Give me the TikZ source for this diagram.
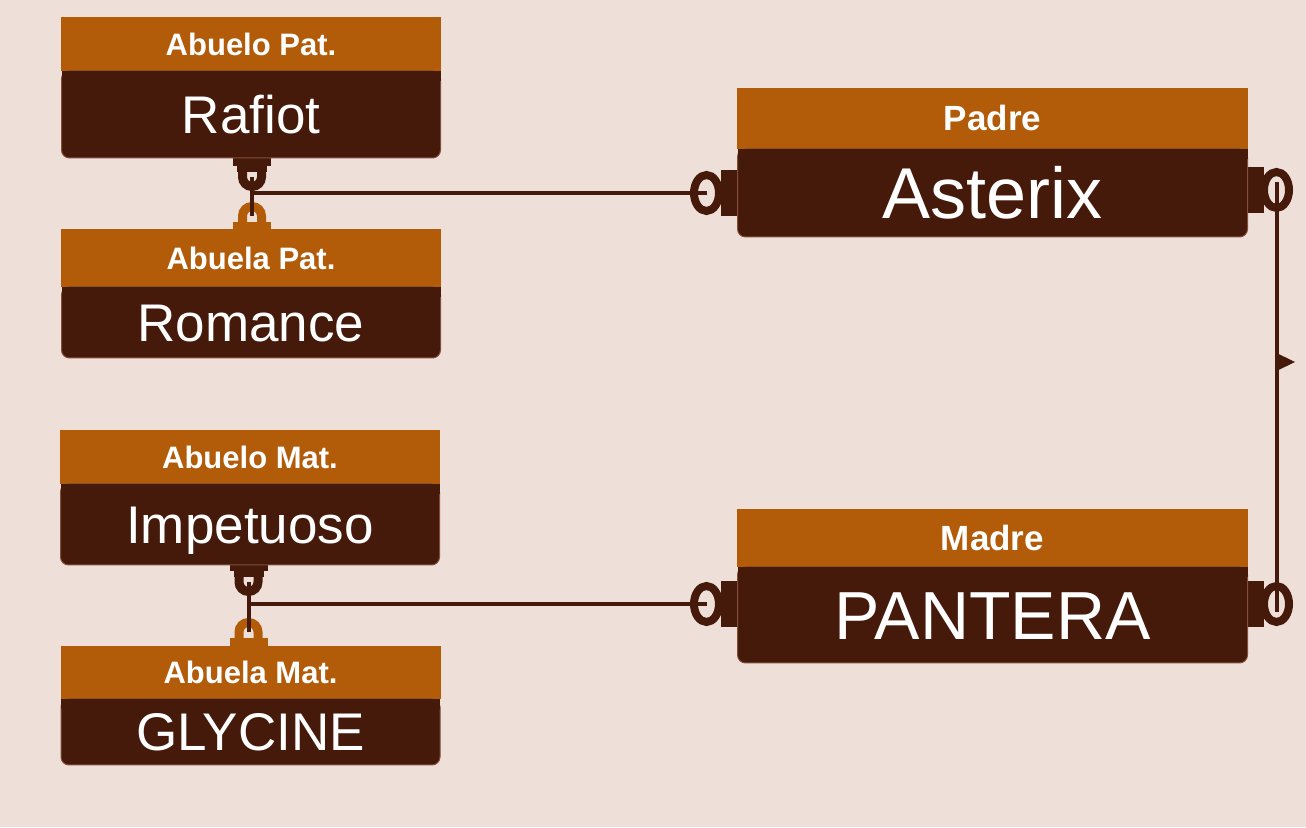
\documentclass[tikz,border=0pt]{standalone}
\usepackage{fontspec}
\setmainfont{Liberation Sans}
\usetikzlibrary{positioning}
\definecolor{bgc}{RGB}{238,224,217}
\definecolor{orng}{RGB}{178,92,10}
\definecolor{drk}{RGB}{69,26,10}
\definecolor{brdr}{RGB}{130,78,58}
\tikzset{
  hdr/.style={fill=orng, text=white, inner sep=0pt, outer sep=0pt, text depth=0pt,
    minimum width=380, font=\bfseries\fontsize{31}{37}\selectfont, text height=22.2pt},
  bighdr/.style={hdr, minimum width=511, font=\bfseries\fontsize{35}{42}\selectfont, text height=25pt},
  body/.style={fill=drk, draw=brdr, line width=1pt, rounded corners=8, text=white,
    inner sep=0pt, outer sep=0pt, text depth=0pt, minimum width=379,
    font=\fontsize{53}{60}\selectfont, text height=38pt},
  bigbody/.style={body, minimum width=510},
  link/.style={line width=9pt},
  ring/.style={drk, line width=8pt},
  wire/.style={drk, line width=4pt},
}
\begin{document}
\begin{tikzpicture}[x=1pt,y=1pt]
\useasboundingbox (0,0) rectangle (1306,827);
\fill[bgc] (0,0) rectangle (1306,827);

% link points
\coordinate (apK) at (252,650);
\coordinate (aaK) at (252,611);
\coordinate (amK) at (248.5,245);
\coordinate (bmK) at (248.5,195);
\coordinate (pL) at (706.5,634);
\coordinate (pR) at (1276.5,637);
\coordinate (mL) at (706.5,223);
\coordinate (mR) at (1276.5,223);
\coordinate (pmArr) at (1276.5,465);

% tabs and shackles of the grandparents
\foreach \k in {apK,amK} {
  \fill[drk] ([xshift=-19pt,yshift=19pt]\k) rectangle ([xshift=19pt,yshift=11pt]\k);
  \fill[drk] ([xshift=-15pt,yshift=11pt]\k) rectangle ([xshift=15pt,yshift=5pt]\k);
  \draw[link,drk] ([xshift=-9.5pt,yshift=6pt]\k) -- ++(0,-6) arc[start angle=180,end angle=360,radius=9.5] -- ++(0,6);
}
\foreach \k in {aaK,bmK} {
  \fill[orng] ([xshift=-19pt,yshift=-6pt]\k) rectangle ([xshift=19pt,yshift=-14pt]\k);
  \draw[link,orng] ([xshift=-9.5pt,yshift=-6pt]\k) -- ++(0,6) arc[start angle=180,end angle=0,radius=9.5] -- ++(0,-6);
}

% tabs and rings of the parents
\foreach \r in {pL,mL} \fill[drk] ([xshift=14pt,yshift=-23pt]\r) rectangle ([xshift=31pt,yshift=23pt]\r);
\foreach \r in {pR,mR} \fill[drk] ([xshift=-30pt,yshift=-23pt]\r) rectangle ([xshift=-13pt,yshift=23pt]\r);
\foreach \r in {pL,pR,mL,mR} \draw[ring] (\r) ellipse [x radius=12.5, y radius=18];

% grandparents
\node[hdr, minimum height=54] (apH) at (251,783) {Abuelo Pat.};
\node[body, minimum height=87, below=0pt of apH] (apB) {Rafiot};
\node[hdr, minimum height=58] (aaH) at (251,569) {Abuela Pat.};
\node[body, minimum height=71, below=0pt of aaH] (aaB) {Romance};
\node[hdr, minimum height=54] (amH) at (250,370) {Abuelo Mat.};
\node[body, minimum height=81, below=0pt of amH] (amB) {Impetuoso};
\node[hdr, minimum height=53] (bmH) at (250.5,154.5) {Abuela Mat.};
\node[body, minimum height=66, below=0pt of bmH] (bmB) {GLYCINE};

% parents
\node[bighdr, minimum height=61] (pH) at (992.5,708.5) {Padre};
\node[bigbody, minimum height=88, below=0pt of pH, font=\fontsize{72}{80}\selectfont, text height=51.5pt] (pB) {Asterix};
\node[bighdr, minimum height=58] (mH) at (992.5,289) {Madre};
\node[bigbody, minimum height=96, below=0pt of mH, font=\fontsize{68}{76}\selectfont, text height=48.7pt] (mB) {PANTERA};

% square top corners of the bodies
\foreach \b in {apB,aaB,amB,bmB,pB,mB} \fill[drk] (\b.north west) rectangle ([yshift=-10pt]\b.north east);

% wires
\draw[wire] (apK) -- (aaK);
\draw[wire] (apK |- pL) -- (pL);
\draw[wire] (amK) -- (bmK);
\draw[wire] (amK |- mL) -- (mL);
\draw[wire] ([yshift=8pt]pR) -- ([yshift=-8pt]mR);
\fill[drk] ([yshift=9pt]pmArr) -- ++(18.5,-9) -- ++(-18.5,-9) -- cycle;
\end{tikzpicture}
\end{document}
